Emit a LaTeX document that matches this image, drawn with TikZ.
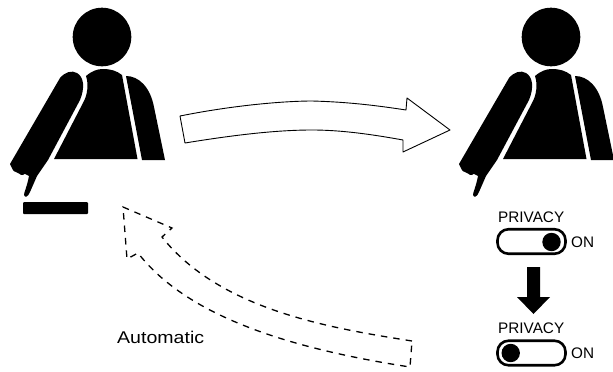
\documentclass[tikz,border=0pt]{standalone}
\usepackage{fontspec}
\setmainfont{Liberation Sans}
\newfontfamily\autofont[FakeStretch=1.15]{Liberation Sans}
\tikzset{
  bigarrow/.style={draw=black,line width=0.9pt,fill=white,line join=round},
  dasharrow/.style={draw=black,line width=1.3pt,dash pattern=on 6.5pt off 6pt},
  lab/.style={inner sep=0pt,font=\fontsize{15.3}{15.3}\selectfont},
  autolab/.style={inner sep=0pt,font=\autofont\fontsize{17}{17}\selectfont},
  sw/.style={draw=black,line width=2.6pt,rounded corners=11pt,fill=white,minimum width=68pt,minimum height=24.5pt,inner sep=0pt}
}
\newcommand{\person}[1]{%
\begin{scope}[shift={(#1,0)}]
  \fill (102,37) circle (29.3);
  \fill (86,76) .. controls (92,71) and (97,69) .. (103,69) .. controls (111,69) and (117,71) .. (122,75) -- (137.5,159) -- (54,159) -- (84,101) .. controls (87,95) and (89,85) .. (86,76) -- cycle;
  \fill (126,76) .. controls (138,76) and (150,86) .. (154,107) -- (165,160) -- (142,160) -- cycle;
  \fill (60,78) .. controls (65,72) and (72,70) .. (77,73) .. controls (84,77) and (85,88) .. (80,100) -- (48,160) -- (37,176) -- (30,192) .. controls (28,197) and (25,198) .. (24,195) .. controls (24,192) and (27,187) .. (29,176) .. controls (27,176) and (25,172) .. (23,175) .. controls (20,176) and (19,172) .. (16,172) .. controls (13,172) and (12,168) .. (10,164) -- cycle;
\end{scope}}
\begin{document}
\begin{tikzpicture}[x=1pt,y=-1pt]
\useasboundingbox (0,0) rectangle (613,372);
\person{0}
\person{449}
\fill[rounded corners=1pt] (23,202) rectangle (88,214);
\coordinate (a1) at (180,116);
\coordinate (a2) at (185,143);
\path[bigarrow] (a1) .. controls (240,104) and (290,101) .. (312,101) .. controls (350,102) and (380,106) .. (406,110) -- (407,98) -- (450,130) -- (403,152) -- (403,140) .. controls (370,134) and (340,130) .. (312,130) .. controls (280,130) and (240,134) .. (a2) -- cycle;
\coordinate (b1) at (412,341);
\coordinate (b2) at (410,367);
\path[dasharrow] (b1) .. controls (330,328) and (220,310) .. (162,237) -- (172,228) -- (123,207) -- (127,259) -- (138,253) .. controls (190,320) and (300,350) .. (b2) -- cycle;
\node[autolab,anchor=base west] (auto) at (117,343) {Automatic};
\node[lab,anchor=base west] (p1) at (498,222) {PRIVACY};
\node[sw] (s1) at (531.5,241.5) {};
\fill (551.5,242) circle (9.2);
\node[lab,anchor=base west] (on1) at (571,247) {ON};
\node[lab,anchor=base west] (p2) at (498,333) {PRIVACY};
\node[sw] (s2) at (531.5,353) {};
\fill (510.7,353) circle (9.2);
\node[lab,anchor=base west] (on2) at (571,358) {ON};
\fill (527,267) -- (540,267) -- (540,297) -- (550,297) -- (533.5,314) -- (517,297) -- (527,297) -- cycle;
\end{tikzpicture}
\end{document}
